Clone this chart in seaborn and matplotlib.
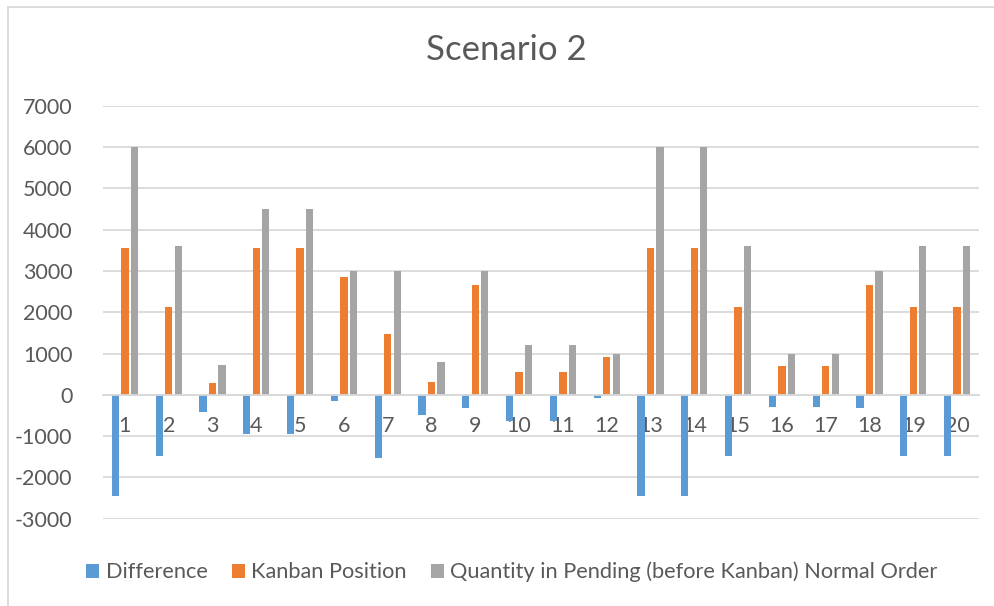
import matplotlib
matplotlib.use("Agg")
import matplotlib.pyplot as plt
from matplotlib.lines import Line2D
import seaborn as sns
import pandas as pd

# Scenario values per order line
categories = [str(i) for i in range(1, 21)]
difference = [-2440, -1470, -420, -940, -940, -150, -1520, -500, -330, -640,
              -640, -80, -2440, -2440, -1470, -300, -300, -330, -1470, -1470]
kanban_position = [3560, 2130, 290, 3560, 3560, 2850, 1480, 300, 2670, 560,
                   560, 920, 3560, 3560, 2130, 700, 700, 2670, 2130, 2130]
pending_qty = [6000, 3600, 710, 4500, 4500, 3000, 3000, 800, 3000, 1200,
               1200, 1000, 6000, 6000, 3600, 1000, 1000, 3000, 3600, 3600]
series_names = ["Difference", "Kanban Position",
                "Quantity in Pending (before Kanban) Normal Order"]
y_ticks = list(range(-3000, 7001, 1000))

df = pd.DataFrame({
    "category": categories * 3,
    "series": [series_names[0]] * 20 + [series_names[1]] * 20 + [series_names[2]] * 20,
    "value": difference + kanban_position + pending_qty,
})

sns.set_theme(style="white")
plt.rcParams["font.family"] = ["Lato", "DejaVu Sans"]
text_color = "#595959"
grid_color = "#d9d9d9"

W, H = 995, 606
fig = plt.figure(figsize=(W / 100, H / 100), dpi=100)
fig.patch.set_facecolor("white")

left, right = 103 / W, 979 / W
top, bottom = 1 - 105.7 / H, 1 - 518.7 / H
ax = fig.add_axes([left, bottom, right - left, top - bottom])

palette = ["#5B9BD5", "#ED7D31", "#A5A5A5"]
sns.barplot(data=df, x="category", y="value", hue="series", order=categories,
            hue_order=series_names, palette=palette, width=0.65, gap=0.23,
            linewidth=0, saturation=1, ax=ax)

ax.set_xlim(-0.5, len(categories) - 0.5)
ax.set_ylim(-3000, 7000)
ax.set_yticks(y_ticks)
ax.set_yticklabels([str(t) for t in y_ticks])
ax.set_xlabel("")
ax.set_ylabel("")

# gridlines behind the bars
ax.set_axisbelow(True)
ax.yaxis.grid(True, color=grid_color, linewidth=1.3)
for side in ["top", "right", "left"]:
    ax.spines[side].set_visible(False)
ax.spines["bottom"].set_position(("data", 0))
ax.spines["bottom"].set_color(grid_color)
ax.spines["bottom"].set_linewidth(1.3)

ax.tick_params(axis="y", length=0, pad=22, labelsize=15.5, labelcolor=text_color)
ax.tick_params(axis="x", length=0, pad=15, labelsize=15.5, labelcolor=text_color)

fig.text(506.7 / W, 1 - 50 / H, "Scenario 2", ha="center", va="center",
         fontsize=25, color=text_color)

sns.move_legend(ax, loc="center", bbox_to_anchor=(512 / W, 1 - 572 / H),
                bbox_transform=fig.transFigure, ncol=3, frameon=False, title=None,
                fontsize=15.7, handlelength=0.6, handleheight=0.6,
                handletextpad=0.3, columnspacing=1.1, borderpad=0)
for t in ax.get_legend().get_texts():
    t.set_color(text_color)

# chart-area border (left and top edges)
fig.add_artist(Line2D([8 / W, 8 / W], [0, 1 - 7 / H], transform=fig.transFigure,
                      color=grid_color, linewidth=1.3))
fig.add_artist(Line2D([8 / W, 1], [1 - 7 / H, 1 - 7 / H], transform=fig.transFigure,
                      color=grid_color, linewidth=1.3))

fig.savefig("out.png", dpi=100, facecolor="white")
